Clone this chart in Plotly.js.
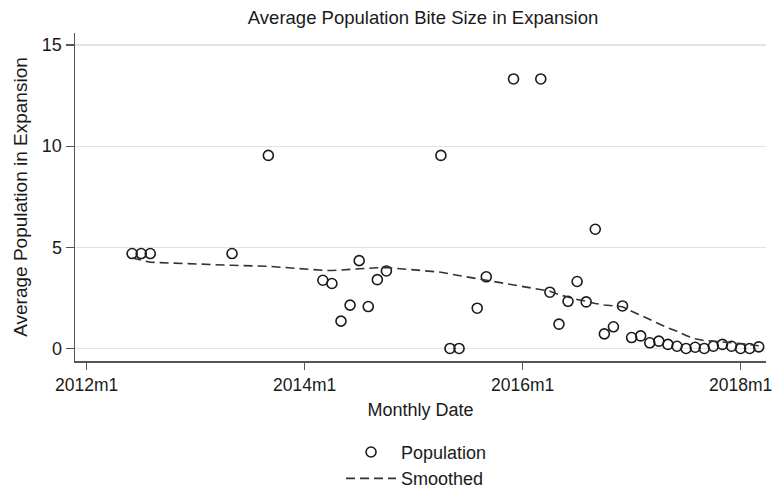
<!DOCTYPE html>
<html>
<head>
<meta charset="utf-8">
<script src="https://cdn.plot.ly/plotly-3.0.1.min.js"></script>
<style>html,body{margin:0;padding:0;background:#fff;}#chart{width:772px;height:489px;}</style>
</head>
<body>
<div id="chart"></div>
<script>
const dates = ["2012m6","2012m7","2012m8","2013m5","2013m9","2014m3","2014m4","2014m5","2014m6","2014m7","2014m8","2014m9","2014m10","2015m4","2015m5","2015m6","2015m8","2015m9","2015m12","2016m3","2016m4","2016m5","2016m6","2016m7","2016m8","2016m9","2016m10","2016m11","2016m12","2017m1","2017m2","2017m3","2017m4","2017m5","2017m6","2017m7","2017m8","2017m9","2017m10","2017m11","2017m12","2018m1","2018m2","2018m3"];
const population = [4.69,4.69,4.69,4.69,9.54,3.37,3.21,1.35,2.14,4.34,2.07,3.40,3.83,9.54,0,0,1.99,3.54,13.32,13.32,2.78,1.20,2.33,3.31,2.30,5.89,0.72,1.07,2.10,0.54,0.62,0.28,0.36,0.20,0.11,0,0.06,0,0.11,0.20,0.11,0,0,0.08];
const smoothed = [4.47,4.36,4.26,4.11,4.06,3.86,3.85,3.88,3.91,3.95,3.97,3.99,4.00,3.77,3.68,3.60,3.44,3.37,3.14,2.91,2.83,2.66,2.53,2.42,2.33,2.22,2.15,2.10,2.06,1.84,1.63,1.43,1.22,1.02,0.85,0.64,0.48,0.39,0.36,0.33,0.28,0.24,0.19,0.13];
const tickLabels = ["2012m1","2014m1","2016m1","2018m1"];
const yTicks = [0,5,10,15];

function monthIndex(s){ const p = s.split("m"); return (parseInt(p[0]) - 2012) * 12 + (parseInt(p[1]) - 1); }
const xs = dates.map(monthIndex);
const tickVals = tickLabels.map(monthIndex);

const font = "Liberation Sans, Arial, sans-serif";
const txt = "#1a1a1a";

const traces = [
  {x: xs, y: population, type: "scatter", mode: "markers", name: "Population",
   marker: {symbol: "circle-open", size: 10, color: "#1a1a1a", line: {width: 1.6, color: "#1a1a1a"}}},
  {x: xs, y: smoothed, type: "scatter", mode: "lines", name: "Smoothed",
   line: {color: "#333333", width: 1.6, dash: "9px,5px"}}
];

const layout = {
  width: 772, height: 489,
  margin: {l: 75, r: 6, t: 33, b: 128, autoexpand: false},
  paper_bgcolor: "#ffffff", plot_bgcolor: "#ffffff",
  font: {family: font, color: txt, size: 18},
  title: {text: "Average Population Bite Size in Expansion", font: {family: font, size: 18.5, color: txt}, x: 0.548, xanchor: "center", y: 0.965, yanchor: "middle"},
  xaxis: {range: [-1.29, 74.8], tickvals: tickVals, ticktext: tickLabels, showgrid: false, zeroline: false,
          showline: true, linecolor: "#555555", linewidth: 1.5, ticks: "outside", ticklen: 7, tickcolor: "#555555", tickwidth: 1.2,
          ticklabeloverflow: "allow", automargin: false,
          tickfont: {size: 17.5, color: txt}, title: {text: "Monthly Date", font: {size: 18, color: txt}, standoff: 10}},
  yaxis: {range: [-0.62, 15.59], tickvals: yTicks, showgrid: true, gridcolor: "#e3e3e3", gridwidth: 1.2, zeroline: false,
          showline: true, linecolor: "#555555", linewidth: 1.5, ticks: "outside", ticklen: 8, tickcolor: "#555555", tickwidth: 1.2,
          automargin: false,
          tickfont: {size: 18, color: txt}, title: {text: "Average Population in Expansion", font: {size: 19, color: txt}}},
  showlegend: true,
  legend: {orientation: "v", x: 0.385, xanchor: "left", y: -0.222, yanchor: "top",
           itemwidth: 50, font: {size: 18, color: txt}, bgcolor: "rgba(0,0,0,0)", tracegroupgap: 0}
};

Plotly.newPlot("chart", traces, layout, {displayModeBar: false, staticPlot: true});
</script>
</body>
</html>
